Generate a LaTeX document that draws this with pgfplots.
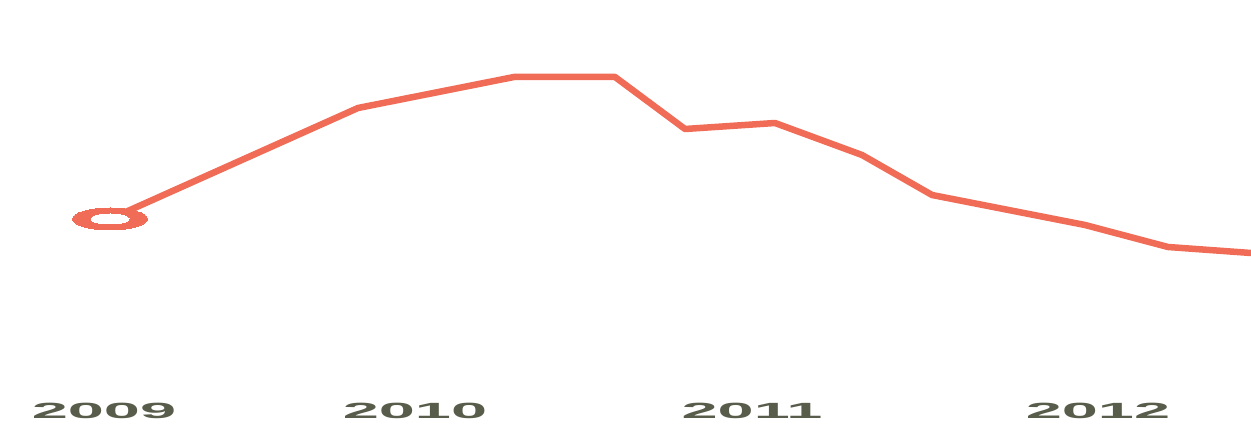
\documentclass[border=0pt]{standalone}
\usepackage{graphicx}
\usepackage{fontspec}
\setmainfont{Liberation Sans}
\usepackage{pgfplots}
\pgfplotsset{compat=1.18}
\definecolor{coral}{RGB}{240,108,86}
\definecolor{yrcol}{RGB}{88,92,74}
\newcommand\yr[1]{\scalebox{2.95}[1]{\bfseries #1}}
\begin{document}
\begin{tikzpicture}
\useasboundingbox[fill=white] (0,0) rectangle (1251bp,436bp);
\begin{axis}[
  at={(0,0)}, anchor=south west,
  scale only axis, width=1251bp, height=436bp,
  xmin=0, xmax=1251, ymin=0, ymax=436,
  axis line style={draw=none},
  major tick length=0pt,
  ytick=\empty,
  xtick={104,415,752,1098},
  xticklabels={\yr{2009},\yr{2010},\yr{2011},\yr{2012}},
  xticklabel style={anchor=base, yshift=18bp, font=\fontsize{22bp}{24bp}\selectfont, text=yrcol},
  clip=false,
]
\addplot[coral, line width=6.5bp, line join=round] coordinates {
  (110,217) (358,328) (514,359) (615,359) (685,307) (775,313)
  (862,281) (932,241) (1085,211) (1168,189) (1251,183)
};
\addplot[coral, only marks, mark=*, mark size=11bp, mark options={xscale=3.4, draw=coral, fill=coral, line width=0pt}] coordinates {(110,217)};
\addplot[white, only marks, mark=*, mark size=5bp, mark options={xscale=3.8, draw=white, fill=white, line width=0pt}] coordinates {(110,217)};
\end{axis}
\end{tikzpicture}
\end{document}
